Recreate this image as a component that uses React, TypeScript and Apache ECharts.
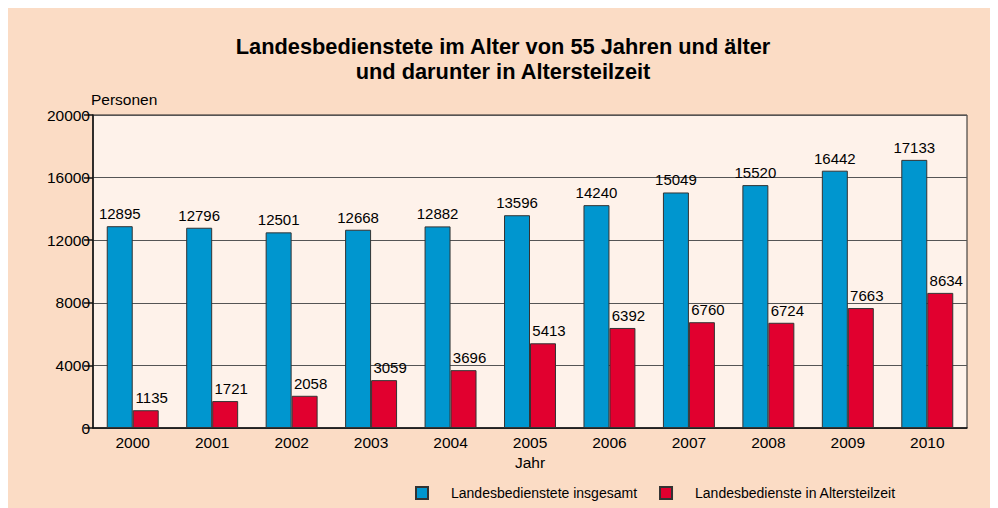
import React, { useEffect, useRef } from "react";
import * as echarts from "echarts";

const years = ["2000", "2001", "2002", "2003", "2004", "2005", "2006", "2007", "2008", "2009", "2010"];
const insgesamt = [12895, 12796, 12501, 12668, 12882, 13596, 14240, 15049, 15520, 16442, 17133];
const altersteilzeit = [1135, 1721, 2058, 3059, 3696, 5413, 6392, 6760, 6724, 7663, 8634];
const seriesNames = ["Landesbedienstete insgesamt", "Landesbedienste in Altersteilzeit"];
const titleText = "Landesbedienstete im Alter von 55 Jahren und älter\nund darunter in Altersteilzeit";

const FONT = "Liberation Sans, Arial, sans-serif";

export default function App() {
  const ref = useRef<HTMLDivElement>(null);
  useEffect(() => {
    if (!ref.current) return;
    const chart = echarts.init(ref.current, null, { renderer: "svg" });
    chart.setOption({
      animation: false,
      backgroundColor: "#FBDCC5",
      textStyle: { fontFamily: FONT },
      title: {
        text: titleText,
        left: "center",
        top: 21,
        textStyle: { fontFamily: FONT, fontSize: 21.8, fontWeight: "bold", color: "#000", lineHeight: 25 },
      },
      legend: {
        left: 402,
        top: 473,
        itemWidth: 12,
        itemHeight: 12,
        itemGap: 22,
        icon: "rect",
        textStyle: { fontFamily: FONT, fontSize: 14, color: "#000", padding: [0, 0, 0, 18] },
        data: seriesNames,
      },
      grid: {
        left: 85,
        top: 107,
        right: 31,
        bottom: 80,
        show: true,
        backgroundColor: "#FEF2EA",
        borderColor: "#222",
        borderWidth: 1,
      },
      xAxis: {
        type: "category",
        data: years,
        name: "Jahr",
        nameLocation: "middle",
        nameGap: 26,
        nameTextStyle: { fontFamily: FONT, fontSize: 15.5, color: "#000" },
        axisLine: { lineStyle: { color: "#111", width: 1.5 } },
        axisTick: { show: false },
        axisLabel: { fontFamily: FONT, fontSize: 15.5, color: "#000", margin: 6 },
      },
      yAxis: {
        type: "value",
        min: 0,
        max: 20000,
        interval: 4000,
        name: "Personen",
        nameLocation: "end",
        nameGap: 6,
        nameTextStyle: { fontFamily: FONT, fontSize: 15.5, color: "#000", align: "left", padding: [0, 0, 0, -2] },
        axisLine: { show: true, lineStyle: { color: "#111", width: 1.5 } },
        axisTick: { show: true, length: 9, lineStyle: { color: "#111", width: 1.5 } },
        axisLabel: { fontFamily: FONT, fontSize: 15.5, color: "#000", margin: 3, formatter: (v: number) => String(v) },
        splitLine: { show: true, lineStyle: { color: "#555", width: 1 } },
      },
      series: [
        {
          name: seriesNames[0],
          type: "bar",
          data: insgesamt,
          barGap: "0%",
          barCategoryGap: "34.6%",
          itemStyle: { color: "#0096CF", borderColor: "#333", borderWidth: 1 },
          label: { show: true, position: "top", distance: 5, fontFamily: FONT, fontSize: 15, color: "#000" },
        },
        {
          name: seriesNames[1],
          type: "bar",
          data: altersteilzeit,
          itemStyle: { color: "#E1002F", borderColor: "#333", borderWidth: 1 },
          label: { show: true, position: "top", distance: 5, offset: [6, 0], fontFamily: FONT, fontSize: 15, color: "#000" },
        },
      ],
    });
    return () => chart.dispose();
  }, []);
  return <div ref={ref} style={{ width: 990, height: 500 }} />;
}
